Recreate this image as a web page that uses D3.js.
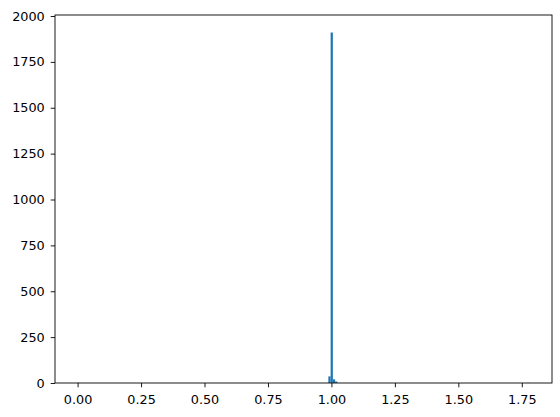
<!DOCTYPE html>
<html><head><meta charset="utf-8">
<script src="https://cdn.jsdelivr.net/npm/d3@7"></script>
<style>body{margin:0;background:#fff}svg{display:block}</style>
</head><body>
<script>
// Data
const dataMin = 0.0;
const dataMax = 1.78;
const binTotal = 200;
const binIndex = [0, 111, 112, 113, 114, 199];
const binCounts = [1, 36, 1910, 20, 8, 1];
const xTicks = [0.00, 0.25, 0.50, 0.75, 1.00, 1.25, 1.50, 1.75];
const yTicks = [0, 250, 500, 750, 1000, 1250, 1500, 1750, 2000];

const W = 560, H = 417;
const L = 55, R = 552, T = 15, B = 383;
const binW = (dataMax - dataMin) / binTotal;
const pad = 0.05 * (dataMax - dataMin);
const x = d3.scaleLinear().domain([dataMin - pad, dataMax + pad]).range([L, R]);
const yMax = d3.max(binCounts) * 1.05;
const y = d3.scaleLinear().domain([0, yMax]).range([B, T]);

const svg = d3.select("body").append("svg").attr("width", W).attr("height", H);
const bins = binIndex.map((k, i) => ({x0: dataMin + k * binW, x1: dataMin + (k + 1) * binW, n: binCounts[i]}));
svg.append("g").selectAll("rect").data(bins).join("rect")
  .attr("x", d => x(d.x0)).attr("width", d => x(d.x1) - x(d.x0))
  .attr("y", d => y(d.n)).attr("height", d => B - y(d.n))
  .attr("fill", "#1f77b4");

const font = "DejaVu Sans";
const xa = svg.append("g").attr("transform", `translate(0,${B})`)
  .call(d3.axisBottom(x).tickValues(xTicks).tickFormat(d3.format(".2f")).tickSize(4.3).tickPadding(8));
const ya = svg.append("g").attr("transform", `translate(${L},0)`)
  .call(d3.axisLeft(y).tickValues(yTicks).tickFormat(d3.format("d")).tickSize(4.3).tickPadding(6));
[xa, ya].forEach(g => {
  g.select(".domain").remove();
  g.selectAll("line").attr("stroke", "#000").attr("stroke-width", 0.9);
  g.selectAll("text").attr("font-family", font).attr("font-size", 12.8).attr("fill", "#000");
});
svg.append("rect").attr("x", L).attr("y", T).attr("width", R - L).attr("height", B - T)
  .attr("fill", "none").attr("stroke", "#000").attr("stroke-width", 0.9);
</script>
</body></html>
